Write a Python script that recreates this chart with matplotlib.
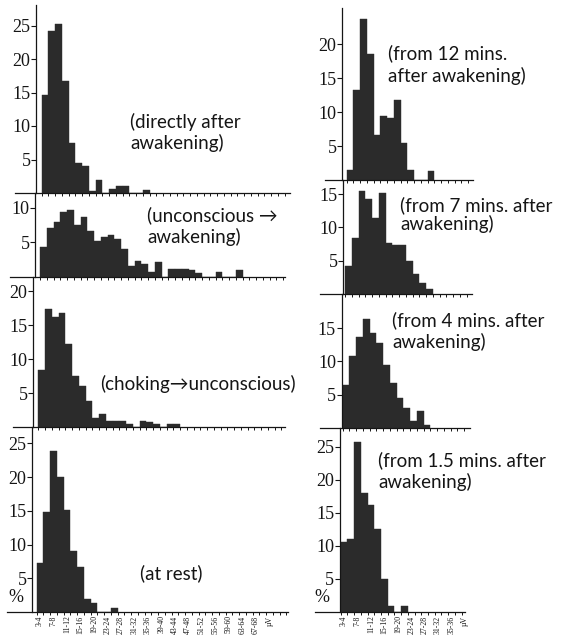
import numpy as np
import matplotlib
matplotlib.use("Agg")
import matplotlib.pyplot as plt

# ---------------- data (percent of occurrences per 2-µV amplitude bin) ----------------
left_xlabels = ["3-4", "7-8", "11-12", "15-16", "19-20", "23-24", "27-28", "31-32", "35-36",
                "39-40", "43-44", "47-48", "51-52", "55-56", "59-60", "63-64", "67-68", "µV"]
right_xlabels = ["3-4", "7-8", "11-12", "15-16", "19-20", "23-24", "27-28", "31-32", "35-36", "µV"]

directly_after = [14.7, 24.2, 25.2, 16.7, 7.4, 4.5, 4.1, 0.3, 2.0, 0, 0.6, 1.1, 1.1, 0, 0, 0.4]
unconscious_awakening = [4.3, 7.1, 7.9, 9.4, 9.7, 7.5, 8.7, 6.7, 5.2, 5.8, 6.0, 5.5, 4.0, 1.6, 2.3,
                         1.8, 0.6, 2.1, 0, 1.1, 1.1, 1.1, 1.0, 0.5, 0, 0, 0.6, 0, 0, 0.9]
choking_unconscious = [8.4, 17.3, 16.2, 16.8, 12.2, 7.5, 6.1, 3.8, 1.3, 1.9, 0.9, 0.9, 0.9, 0.4,
                       0, 0.9, 0.8, 0.4, 0, 0.4, 0.4]
at_rest = [7.3, 14.8, 23.8, 20.0, 15.1, 9.1, 6.7, 2.0, 1.3, 0, 0, 0.6]

from_12_min = [1.5, 13.2, 23.7, 18.6, 6.6, 9.4, 9.1, 11.8, 5.4, 1.4, 0, 0, 1.3]
from_7_min = [4.2, 8.4, 15.5, 14.3, 11.5, 15.3, 7.7, 7.4, 7.3, 4.9, 3.0, 1.6, 0.7]
from_4_min = [6.5, 10.8, 13.6, 16.4, 14.2, 12.7, 9.5, 6.7, 4.5, 3.0, 1.0, 2.5, 0.5]
from_1_5_min = [10.5, 11.1, 25.7, 18.0, 16.1, 12.6, 5.0, 0.85, 0, 0.85]

# ---------------- layout (pixels in a 575 x 638 canvas) ----------------
W, H = 575, 638
BW = 6.75  # pixels per amplitude bin
BAR = "#2b2b2b"
INK = "#151515"
SERIF = ["Liberation Serif", "DejaVu Serif"]
SANS = ["Lato", "DejaVu Sans"]

fig = plt.figure(figsize=(W / 100, H / 100), dpi=100)
fig.patch.set_facecolor("white")


def panel(values, bin0, axis_x, left, right, base, top, scale, yticks, xlabels=None):
    ax = fig.add_axes([left / W, (H - base) / H, (right - left) / W, (base - top) / H])
    x0 = (left - bin0) / BW
    x1 = (right - bin0) / BW
    ax.set_xlim(x0, x1)
    ax.set_ylim(0, (base - top) / scale)
    ax.set_facecolor("none")
    idx = np.arange(len(values))
    ax.bar(idx + 0.5, values, width=1.0, color=BAR, edgecolor=BAR, linewidth=0.3)
    for s in ("top", "right"):
        ax.spines[s].set_visible(False)
    ax.spines["left"].set_position(("data", (axis_x - bin0) / BW))
    ax.spines["left"].set_color(INK)
    ax.spines["left"].set_linewidth(0.9)
    ax.spines["bottom"].set_color(INK)
    ax.spines["bottom"].set_linewidth(0.9)
    ax.set_yticks(yticks)
    ax.set_yticklabels([str(v) for v in yticks], family=SERIF, fontsize=13, color=INK)
    ax.tick_params(axis="y", direction="out", length=3.5, width=0.8, pad=0.5, colors=INK)
    ax.set_xticks(np.arange(0, int(x1) + 1), minor=True)
    ax.tick_params(axis="x", which="minor", direction="out", length=2.2, width=0.7, colors=INK)
    if xlabels:
        pos = np.arange(len(xlabels)) * 2 + 0.5
        ax.set_xticks(pos)
        ax.set_xticklabels(xlabels, rotation=90, family=SERIF, fontsize=5.6, color=INK)
        ax.tick_params(axis="x", which="major", length=0, pad=2.5)
    else:
        ax.set_xticks([])
    return ax


# left column
panel(directly_after, 41.7, 36, 15, 290, 193, 5, 6.7, [5, 10, 15, 20, 25])
panel(unconscious_awakening, 40, 35, 10, 285, 276.5, 193, 6.85, [5, 10])
panel(choking_unconscious, 38.3, 33, 13, 285, 427, 276.5, 6.8, [5, 10, 15, 20])
panel(at_rest, 36.5, 32, 7, 288, 612, 427, 6.75, [5, 10, 15, 20, 25], left_xlabels)

# right column
panel(from_12_min, 346.7, 342, 325, 473, 180, 8, 6.79, [5, 10, 15, 20])
panel(from_7_min, 345, 343, 320, 472, 293.5, 180, 6.6, [5, 10, 15])
panel(from_4_min, 342.7, 341.5, 320, 470, 428, 293.5, 6.66, [5, 10, 15])
panel(from_1_5_min, 340.8, 340, 315, 465, 612, 428, 6.62, [5, 10, 15, 20, 25], right_xlabels)


def label(x, y, s):
    fig.text(x / W, 1 - y / H, s, ha="left", va="center", fontsize=13.5, family=SANS,
             color=INK)


label(130, 122, "(directly after")
label(130, 143, "awakening)")
label(147, 215, "(unconscious \u2192")
label(147, 237, "awakening)")
label(100, 384, "(choking\u2192unconscious)")
label(140, 573, "(at rest)")
label(388, 53, "(from 12 mins.")
label(388, 76, "after awakening)")
label(400, 205, "(from 7 mins. after")
label(400, 224, "awakening)")
label(392, 320, "(from 4 mins. after")
label(392, 342, "awakening)")
label(378, 460, "(from 1.5 mins. after")
label(378, 482, "awakening)")

for px, py in ((16, 598), (322, 598)):
    fig.text(px / W, 1 - py / H, "%", ha="center", va="center", fontsize=13,
             family=SERIF, color=INK)

fig.savefig("out.png", dpi=100)
